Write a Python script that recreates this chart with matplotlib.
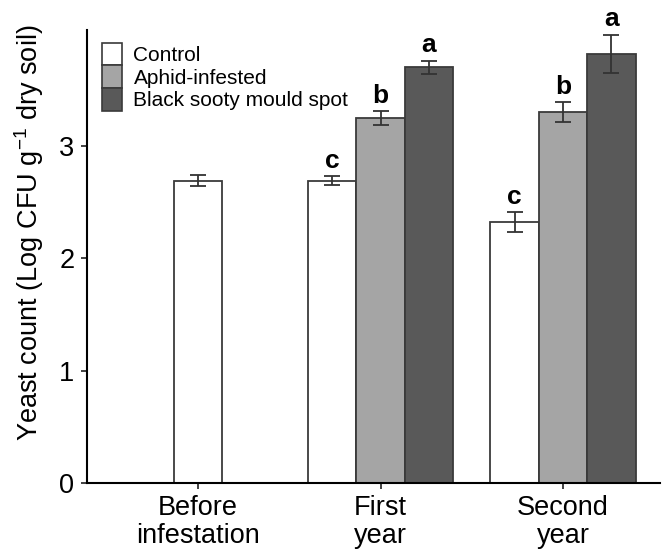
import matplotlib
matplotlib.use("Agg")
import matplotlib.pyplot as plt
import numpy as np
from matplotlib.patches import Patch

plt.rcParams['font.family'] = ['Liberation Sans', 'DejaVu Sans']
plt.rcParams['mathtext.default'] = 'regular'

groups = ["Before\ninfestation", "First\nyear", "Second\nyear"]
treatments = ["Control", "Aphid-infested", "Black sooty mould spot"]
colors = ["#ffffff", "#a5a5a5", "#595959"]

# values per group (None = no bar)
means = {
    "Control": [2.69, 2.69, 2.32],
    "Aphid-infested": [None, 3.25, 3.30],
    "Black sooty mould spot": [None, 3.70, 3.82],
}
errs = {
    "Control": [0.05, 0.04, 0.09],
    "Aphid-infested": [None, 0.06, 0.09],
    "Black sooty mould spot": [None, 0.06, 0.17],
}
letters = {
    "Control": [None, "c", "c"],
    "Aphid-infested": [None, "b", "b"],
    "Black sooty mould spot": [None, "a", "a"],
}

fig = plt.figure(figsize=(6.63, 5.5), dpi=100)
ax = fig.add_axes([0.131, 0.122, 0.864, 0.823])

w = 0.265
for gi in range(len(groups)):
    present = [t for t in treatments if means[t][gi] is not None]
    n = len(present)
    for k, t in enumerate(present):
        x = gi + (k - (n - 1) / 2) * w
        m = means[t][gi]
        e = errs[t][gi]
        ax.bar(x, m, width=w, color=colors[treatments.index(t)],
               edgecolor="#3a3a3a", linewidth=1.3, zorder=2)
        ax.errorbar(x, m, yerr=e, fmt="none", ecolor="#333333",
                    elinewidth=1.3, capsize=6, capthick=1.3, zorder=3)
        lt = letters[t][gi]
        if lt:
            ax.text(x, m + e + 0.03, lt, ha="center", va="bottom",
                    fontsize=19, fontweight="bold", color="black")

ax.set_xlim(-0.61, 2.53)
ax.set_ylim(0, 4.03)
ax.set_xticks(range(len(groups)))
ax.set_xticklabels(groups, fontsize=19.5, linespacing=1.1)
ax.set_yticks([0, 1, 2, 3])
ax.set_yticklabels(["0", "1", "2", "3"], fontsize=19.5)
ax.set_ylabel("Yeast count (Log CFU g$^{-1}$ dry soil)", fontsize=19.5)
ax.yaxis.set_label_coords(-0.072, 0.553)
for s in ["top", "right"]:
    ax.spines[s].set_visible(False)
for s in ["left", "bottom"]:
    ax.spines[s].set_linewidth(1.5)
ax.tick_params(axis="both", width=1.3, length=4, color="#333333", pad=5)

handles = [Patch(facecolor=c, edgecolor="#3a3a3a", linewidth=1.2) for c in colors]
ax.legend(handles, treatments, loc="upper left", bbox_to_anchor=(0.005, 1.0),
          frameon=False, fontsize=15, handlelength=0.95, handleheight=1.3,
          labelspacing=0.0, handletextpad=0.55, borderaxespad=0.2)

fig.savefig("out.png", dpi=100)
